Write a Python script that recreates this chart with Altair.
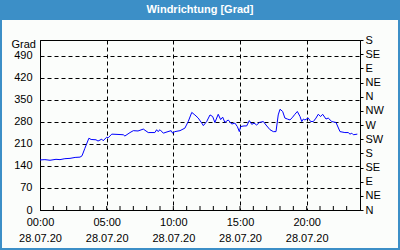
import altair as alt
import pandas as pd

# Minutes after 28.07.20 00:00 and wind direction in degrees
minutes = [0, 22, 45, 72, 90, 112, 135, 158, 180, 189,
           202, 220, 230, 252, 261, 278, 284, 300, 306, 323,
           351, 375, 382, 405, 420, 441, 465, 487, 517, 525,
           531, 540, 555, 567, 576, 590, 597, 607, 630, 652,
           667, 683, 697, 712, 728, 735, 750, 765, 777, 787,
           802, 813, 822, 832, 847, 863, 877, 888, 897, 903,
           918, 930, 942, 953, 963, 975, 987, 1005, 1017, 1035,
           1050, 1062, 1072, 1080, 1092, 1102, 1113, 1125, 1137, 1147,
           1158, 1170, 1178, 1185, 1192, 1207, 1218, 1230, 1242, 1252,
           1263, 1272, 1287, 1297, 1313, 1332, 1350, 1372, 1387, 1395,
           1403, 1410, 1428]
values = [159, 160, 158, 161, 160, 163, 164, 167, 168, 172,
          196, 228, 224, 223, 219, 225, 220, 231, 229, 241,
          240, 239, 235, 246, 252, 251, 257, 246, 246, 255,
          249, 255, 244, 247, 249, 252, 244, 249, 252, 260,
          281, 310, 302, 292, 276, 268, 281, 302, 297, 278,
          304, 287, 295, 278, 286, 273, 276, 265, 249, 265,
          267, 267, 284, 272, 276, 270, 278, 281, 270, 255,
          249, 249, 302, 320, 313, 292, 289, 286, 295, 304,
          313, 297, 281, 289, 286, 292, 281, 281, 292, 304,
          297, 304, 289, 292, 281, 278, 249, 246, 246, 241,
          244, 239, 241]
assert len(minutes) == len(values)

left_ticks = [0, 70, 140, 210, 280, 350, 420, 490]
right_ticks = [0, 45, 90, 135, 180, 225, 270, 315, 360, 405, 450, 495, 540]
compass = ["N", "NE", "E", "SE", "S", "SW", "W", "NW", "N", "NE", "E", "SE", "S"]
label_hours = [0, 5, 10, 15, 20]
tick_hours = list(range(1, 24))
title_text = "Windrichtung [Grad]"
unit_text = "Grad"

base_day = pd.Timestamp("2020-07-28")
df = pd.DataFrame({
    "time": base_day + pd.to_timedelta(minutes, unit="min"),
    "value": values,
})
ticks_df = pd.DataFrame({"time": base_day + pd.to_timedelta(tick_hours, unit="h")})

FONT = "Liberation Sans"
BLUE = "#3c8fc7"
compass_js = "[" + ",".join("'%s'" % c for c in compass) + "]"

x_scale = alt.Scale(domain=[alt.DateTime(year=2020, month=7, date=28, hours=0),
                            alt.DateTime(year=2020, month=7, date=29, hours=0)])
x_axis = alt.Axis(
    title=None,
    values=[alt.DateTime(year=2020, month=7, date=28, hours=h) for h in label_hours],
    labelExpr="[timeFormat(datum.value, '%H:%M'), timeFormat(datum.value, '%d.%m.%y')]",
    labelLineHeight=16, labelPadding=6, ticks=False,
    grid=True, gridColor="black", gridDash=[4, 3], gridOpacity=1,
    labelAlign="center", labelFlush=False,
)
y_scale = alt.Scale(domain=[0, 540], nice=False, zero=True)

one = pd.DataFrame({"a": [0]})

titlebar = alt.Chart(one).mark_rect(fill=BLUE).encode(
    x=alt.value(-40), x2=alt.value(360), y=alt.value(-40), y2=alt.value(-20))
border = alt.Chart(one).mark_rect(fillOpacity=0, stroke=BLUE, strokeWidth=2).encode(
    x=alt.value(-39), x2=alt.value(359), y=alt.value(-39), y2=alt.value(209))
title = alt.Chart(pd.DataFrame({"t": [title_text]})).mark_text(
    font=FONT, fontSize=11, fontWeight="bold", color="white", align="center", baseline="middle"
).encode(x=alt.value(160), y=alt.value(-30), text="t:N")
unit = alt.Chart(pd.DataFrame({"t": [unit_text]})).mark_text(
    font=FONT, fontSize=11, color="black", align="right", baseline="middle"
).encode(x=alt.value(-4), y=alt.value(5), text="t:N")

line = alt.Chart(df).mark_line(color="#0000ff", strokeWidth=1).encode(
    x=alt.X("time:T", scale=x_scale, axis=x_axis),
    y=alt.Y("value:Q", scale=y_scale,
            axis=alt.Axis(title=None, values=left_ticks, ticks=False, labelPadding=8,
                          grid=True, gridColor="black", gridDash=[4, 3], gridOpacity=1)),
)
right = alt.Chart(df).mark_line(opacity=0).encode(
    x=alt.X("time:T", scale=x_scale),
    y=alt.Y("value:Q", scale=y_scale,
            axis=alt.Axis(title=None, orient="right", values=right_ticks, grid=False,
                          tickSize=3, labelPadding=2,
                          labelExpr=compass_js + "[round(datum.value/45)]")),
)
hour_ticks = alt.Chart(ticks_df).mark_rule(color="black", strokeWidth=1).encode(
    x=alt.X("time:T", scale=x_scale), y=alt.value(166), y2=alt.value(170))

chart = alt.layer(line, right, hour_ticks, titlebar, border, title, unit).resolve_scale(
    y="independent"
).properties(
    width=320, height=170,
    autosize=alt.AutoSizeParams(type="none"),
    padding={"left": 40, "right": 40, "top": 40, "bottom": 40},
    background="#fbfdfb",
).configure_view(stroke="black", strokeWidth=1).configure_axis(
    labelFont=FONT, labelFontSize=11, labelColor="black",
    domainColor="black", tickColor="black", domainWidth=1,
)

chart.save("out.html", embed_options={"renderer": "svg", "actions": False})
